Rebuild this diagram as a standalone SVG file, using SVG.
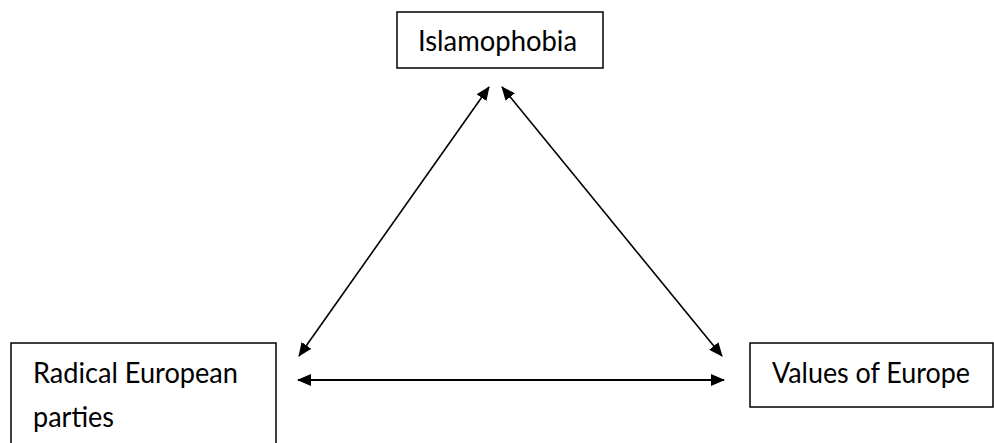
<svg xmlns="http://www.w3.org/2000/svg" width="994" height="443" viewBox="0 0 994 443">
<style>
.box{fill:#fff;stroke:#000;stroke-width:1.5}
.lbl{font-family:Lato,"Open Sans","Liberation Sans",sans-serif;font-size:28px;fill:#000}
.conn{stroke:#000;fill:none}
</style>
<defs>
<marker id="ah" viewBox="0 0 14 12" refX="13" refY="6" markerWidth="14" markerHeight="12" markerUnits="userSpaceOnUse" orient="auto-start-reverse">
<path d="M0,0 L14,6 L0,12 Z" fill="#000"/>
</marker>
</defs>
<rect width="994" height="443" fill="#fff"/>
<g id="islamophobia">
<rect class="box" x="397" y="12" width="206" height="56"/>
<text class="lbl" x="418" y="51" textLength="159" lengthAdjust="spacingAndGlyphs">Islamophobia</text>
</g>
<g id="radical-european-parties">
<rect class="box" x="11" y="343" width="265" height="110"/>
<text class="lbl" x="33" y="383" textLength="205" lengthAdjust="spacingAndGlyphs">Radical European</text>
<text class="lbl" x="33" y="427" textLength="81" lengthAdjust="spacingAndGlyphs">parties</text>
</g>
<g id="values-of-europe">
<rect class="box" x="750" y="343" width="243" height="64"/>
<text class="lbl" x="772" y="383" textLength="198" lengthAdjust="spacingAndGlyphs">Values of Europe</text>
</g>
<g id="connectors">
<line class="conn" stroke-width="1.6" x1="489" y1="87" x2="299" y2="356" marker-start="url(#ah)" marker-end="url(#ah)"/>
<line class="conn" stroke-width="1.6" x1="502" y1="87" x2="722" y2="356" marker-start="url(#ah)" marker-end="url(#ah)"/>
<line class="conn" stroke-width="2.2" x1="298" y1="380" x2="724" y2="380" marker-start="url(#ah)" marker-end="url(#ah)"/>
</g>
</svg>
